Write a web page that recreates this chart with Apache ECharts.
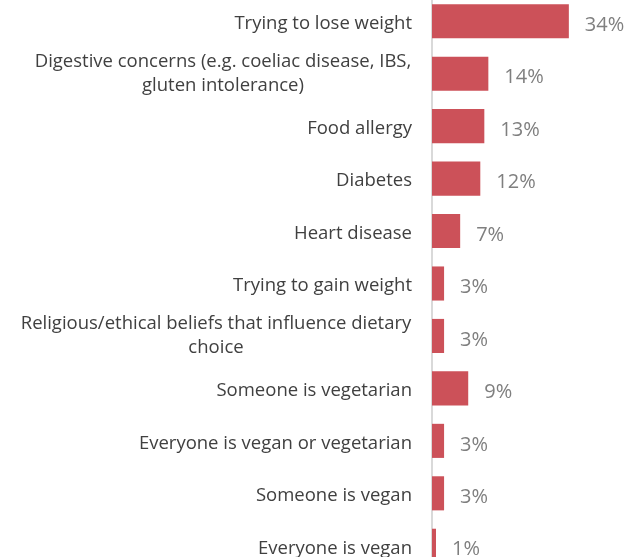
<!DOCTYPE html>
<html>
<head>
<meta charset="utf-8">
<script src="https://cdn.jsdelivr.net/npm/echarts@6/dist/echarts.min.js"></script>
<style>
  html, body { margin: 0; padding: 0; background: #ffffff; overflow: hidden; }
  body { width: 628px; height: 557px; position: relative; }
  /* the plot runs slightly past the top and bottom edges of the page */
  #chart { position: absolute; left: 0; top: -5px; width: 628px; height: 577px; }
</style>
</head>
<body>
<div id="chart"></div>
<script>
// Reasons for following a special diet (share of households)
const categories = [
  'Trying to lose weight',
  'Digestive concerns (e.g. coeliac disease, IBS,\ngluten intolerance)',
  'Food allergy',
  'Diabetes',
  'Heart disease',
  'Trying to gain weight',
  'Religious/ethical beliefs that influence dietary\nchoice',
  'Someone is vegetarian',
  'Everyone is vegan or vegetarian',
  'Someone is vegan',
  'Everyone is vegan'
];
const values = [34, 14, 13, 12, 7, 3, 3, 9, 3, 3, 1];

const LABEL_FONT = 'Open Sans';
const LABEL_SIZE = 18.5;

// Two-line labels are centred as a block; give each its own rich style
// whose width is that of its widest line.
const ctx = document.createElement('canvas').getContext('2d');
ctx.font = LABEL_SIZE + 'px "' + LABEL_FONT + '"';
const rich = {
  s: { fontFamily: LABEL_FONT, fontSize: LABEL_SIZE, color: '#404040', lineHeight: 25, padding: [5, 0, 0, 0] }
};
const styleKey = {};
categories.forEach((c, i) => {
  if (c.indexOf('\n') >= 0) {
    const w = Math.max(...c.split('\n').map(l => ctx.measureText(l).width));
    const key = 'm' + i;
    rich[key] = { fontFamily: LABEL_FONT, fontSize: LABEL_SIZE, color: '#404040', lineHeight: 24, width: Math.ceil(w) + 1, align: 'center' };
    styleKey[c] = key;
  }
});

const chart = echarts.init(document.getElementById('chart'), null, { renderer: 'canvas' });
chart.setOption({
  animation: false,
  grid: { left: 432, right: 35, top: 0, bottom: 0, containLabel: false },
  xAxis: {
    type: 'value', min: 0, max: 40,
    show: false
  },
  yAxis: {
    type: 'category',
    data: categories,
    inverse: true,
    axisLine: { show: true, lineStyle: { color: '#d9d9d9', width: 2 } },
    axisTick: { show: false },
    axisLabel: {
      margin: 20,
      align: 'right',
      formatter: function (v) {
        const key = styleKey[v];
        if (key) {
          return v.split('\n').map(l => '{' + key + '|' + l + '}').join('\n');
        }
        return '{s|' + v + '}';
      },
      rich: rich
    }
  },
  series: [{
    type: 'bar',
    data: values,
    barCategoryGap: '35%',
    itemStyle: { color: '#cc5159' },
    label: {
      show: true,
      position: 'right',
      distance: 16,
      formatter: '{c}%',
      color: '#7f7f7f',
      fontFamily: 'Open Sans',
      fontSize: 20,
      offset: [0, 4]
    }
  }]
});
</script>
</body>
</html>
